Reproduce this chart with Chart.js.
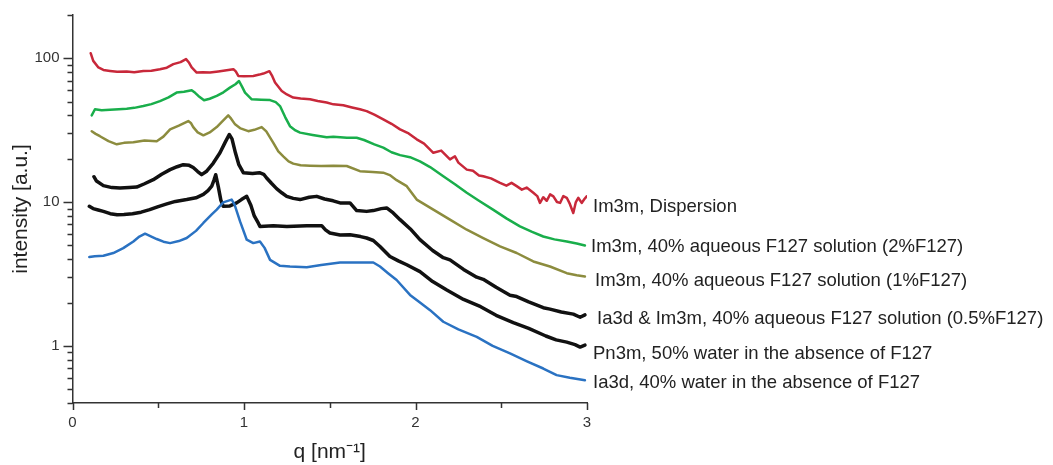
<!DOCTYPE html>
<html><head><meta charset="utf-8">
<script src="https://cdn.jsdelivr.net/npm/chart.js@4.4.1/dist/chart.umd.min.js"></script>
<style>html,body{margin:0;padding:0;background:#fff;}#wrap{width:1053px;height:465px;position:relative;}</style>
</head><body><div id="wrap"><canvas id="c"></canvas></div>
<script>
// ---- data (q in nm^-1, intensity in a.u.) ----
const seriesNames = [
  "Im3m, Dispersion",
  "Im3m, 40% aqueous F127 solution (2%F127)",
  "Im3m, 40% aqueous F127 solution (1%F127)",
  "Ia3d & Im3m, 40% aqueous F127 solution (0.5%F127)",
  "Pn3m, 50% water in the absence of F127",
  "Ia3d, 40% water in the absence of F127"
];
const qRed = [0.106,0.121,0.151,0.18,0.219,0.26,0.316,0.36,0.413,0.46,0.51,0.55,0.588,0.63,0.662,0.68,0.695,0.724,0.76,0.802,0.85,0.899,0.938,0.952,0.967,1.0,1.054,1.09,1.113,1.148,1.165,1.181,1.22,1.25,1.287,1.33,1.385,1.43,1.482,1.521,1.579,1.63,1.676,1.715,1.76,1.812,1.86,1.91,1.96,2.007,2.05,2.104,2.15,2.201,2.23,2.25,2.299,2.335,2.37,2.395,2.44,2.493,2.53,2.56,2.59,2.62,2.648,2.687,2.71,2.726,2.745,2.765,2.785,2.804,2.825,2.843,2.862,2.882,2.9,2.92,2.935,2.949,2.969,2.985,2.998];
const iRed = [108.5,95.9,86.3,83,81.7,80.5,80.9,80,81.7,82,84,86,91,94,98.6,93,86.3,79.6,80,79.6,81,82.6,84,81,75.4,75,75.4,77,78.3,81.3,75,67.8,59.2,56,53.3,52.5,51.8,50.5,49.2,47.8,47.1,45.5,44.2,42.9,40.5,37.6,35,32,30,27.3,25.5,22.0,22.8,19.8,20.8,18.8,16.8,16.5,15.3,15.1,14.6,13.6,13.0,13.6,12.9,12.2,12.6,11.6,11.0,9.86,10.8,10.2,11.3,10.95,10.0,9.86,11.0,10.7,9.7,8.39,10.0,10.7,9.86,10.5,10.95];

const qGreen = [0.112,0.131,0.17,0.219,0.27,0.316,0.36,0.413,0.46,0.51,0.56,0.607,0.65,0.695,0.715,0.734,0.767,0.8,0.841,0.88,0.918,0.95,0.971,0.99,1.006,1.045,1.1,1.152,1.185,1.21,1.24,1.268,1.3,1.327,1.4,1.482,1.521,1.6,1.657,1.7,1.76,1.812,1.86,1.91,1.968,2.026,2.085,2.162,2.23,2.299,2.37,2.452,2.53,2.609,2.68,2.745,2.81,2.882,2.94,2.988];
const iGreen = [40.1,44.2,43.5,43.8,44.2,44.6,45.2,46.5,48,50.4,53.5,57.7,58.5,59.9,57.5,54.7,51.0,52.3,54.7,58,62.5,66,69.5,63,57.7,51.8,51.5,51.2,49.5,46.5,39,33.7,31.5,30.4,29.3,28.2,28.5,28.0,28.0,27.0,25.2,23.9,22.2,21.2,20.5,19.2,17.5,15.1,13.3,11.6,10.2,8.85,7.7,6.77,6.2,5.76,5.5,5.32,5.15,4.99];

const qOlive = [0.112,0.135,0.16,0.21,0.258,0.3,0.355,0.42,0.491,0.53,0.569,0.62,0.675,0.69,0.704,0.73,0.763,0.8,0.841,0.875,0.908,0.925,0.948,0.98,1.025,1.06,1.103,1.13,1.171,1.2,1.229,1.26,1.287,1.33,1.385,1.45,1.521,1.599,1.676,1.75,1.812,1.85,1.89,1.949,2.007,2.104,2.201,2.299,2.395,2.493,2.59,2.687,2.784,2.882,2.94,2.988];
const iOlive = [31.1,29.8,28.7,26.5,25.2,25.8,26.1,26.8,26.5,28.5,32.0,34,36.6,35.5,33.2,30.5,29.1,30.5,33.2,36.5,40.1,38,34.7,32.5,31.1,31.8,33.2,31,25.8,22.5,20.8,19.2,18.5,18.0,17.9,17.8,17.9,17.8,16.4,16.2,16.0,15.4,14.2,12.9,10.4,8.85,7.54,6.42,5.62,4.91,4.42,3.86,3.56,3.2,3.1,3.03];

const qBlack1 = [0.125,0.14,0.18,0.23,0.277,0.33,0.374,0.42,0.471,0.52,0.569,0.61,0.646,0.68,0.704,0.73,0.753,0.78,0.82,0.86,0.89,0.914,0.93,0.95,0.97,0.996,1.05,1.09,1.115,1.132,1.16,1.19,1.22,1.249,1.287,1.327,1.38,1.424,1.47,1.52,1.56,1.618,1.657,1.715,1.754,1.8,1.832,1.87,1.91,1.97,2.026,2.1,2.162,2.201,2.28,2.357,2.395,2.47,2.551,2.59,2.66,2.745,2.784,2.85,2.92,2.96,2.988];
const iBlack1 = [15.0,14.0,13.0,12.6,12.5,12.6,12.7,13.4,14.3,15.6,16.8,17.6,18.2,18.0,17.4,16.3,15.5,16.3,18.6,22.0,26.0,29.5,27.5,22,18.2,16.0,15.8,16.0,15.6,14.7,13.5,12.4,11.6,10.95,10.6,10.4,10.8,10.95,10.5,10.2,9.86,9.86,8.72,8.61,8.72,9.0,9.1,8.4,7.54,6.5,5.47,4.6,4.1,3.96,3.4,3.0,2.9,2.55,2.25,2.2,2.02,1.84,1.8,1.72,1.66,1.58,1.64];

const qBlack2 = [0.098,0.12,0.15,0.18,0.22,0.26,0.3,0.35,0.4,0.45,0.5,0.55,0.6,0.666,0.72,0.763,0.79,0.812,0.825,0.835,0.85,0.865,0.879,0.918,0.957,0.985,1.016,1.04,1.06,1.083,1.093,1.171,1.25,1.366,1.453,1.475,1.501,1.56,1.618,1.68,1.715,1.754,1.793,1.851,1.9,1.949,2.026,2.1,2.18,2.28,2.38,2.47,2.57,2.66,2.76,2.82,2.882,2.93,2.96,2.988];
const iBlack2 = [9.33,9.0,8.8,8.61,8.3,8.17,8.2,8.3,8.5,8.85,9.3,9.7,10.1,10.4,10.7,11.3,12.0,12.9,14.2,15.5,12.8,10.3,9.33,9.4,9.86,10.4,10.95,9.5,8.0,7.15,6.77,6.85,6.75,6.85,6.85,6.4,6.09,5.9,5.93,5.75,5.62,5.4,4.91,4.18,3.9,3.66,3.28,2.8,2.45,2.1,1.87,1.63,1.45,1.32,1.17,1.1,1.06,1.02,0.98,1.01];

const qBlue = [0.098,0.13,0.18,0.238,0.296,0.355,0.39,0.423,0.46,0.491,0.53,0.569,0.62,0.666,0.72,0.763,0.812,0.841,0.879,0.928,0.945,0.977,1.016,1.054,1.093,1.12,1.152,1.21,1.268,1.366,1.45,1.56,1.754,1.793,1.84,1.89,1.968,2.026,2.085,2.162,2.25,2.357,2.45,2.551,2.65,2.745,2.823,2.9,2.988];
const iBlue = [4.14,4.2,4.23,4.42,4.78,5.32,5.75,6.02,5.75,5.53,5.3,5.18,5.35,5.62,6.3,7.15,8.2,8.85,9.95,10.4,9.6,7.33,5.47,5.18,5.32,4.8,3.96,3.6,3.56,3.52,3.65,3.8,3.8,3.56,3.2,2.87,2.26,2.0,1.77,1.47,1.3,1.155,1.0,0.885,0.78,0.695,0.625,0.6,0.576];

const xTickValues = [0, 1, 2, 3];
const yTickValues = [1, 10, 100];

// ---- styles ----
const colors = ['#c8283a', '#19ae4b', '#8c8c3e', '#111111', '#111111', '#2a72c2'];
const widths = [2.5, 2.5, 2.5, 3.5, 3.5, 2.5];
const labelDx = [6, 4, 8, 10, 6, 6];
const labelDy = [11, 1, 4, 4, 9, 3];

const qs = [qRed, qGreen, qOlive, qBlack1, qBlack2, qBlue];
const is = [iRed, iGreen, iOlive, iBlack1, iBlack2, iBlue];

const datasets = seriesNames.map((name, k) => ({
  label: name,
  data: qs[k].map((q, i) => ({x: q, y: is[k][i]})),
  borderColor: colors[k],
  backgroundColor: colors[k],
  borderWidth: widths[k],
  pointRadius: 0,
  tension: 0,
  fill: false,
  borderJoinStyle: 'round',
  borderCapStyle: 'round',
  order: k === 5 ? -1 : k
}));

const FONT = '"Liberation Sans", Arial, sans-serif';

const tickMarks = {
  id: 'tickMarks',
  afterDraw(chart) {
    const ctx = chart.ctx, xs = chart.scales.x, ys = chart.scales.y;
    const ca = chart.chartArea;
    ctx.save();
    ctx.strokeStyle = '#333';
    ctx.lineWidth = 1.5;
    ctx.beginPath();
    for (let d = -1; d <= 2; d++) {
      for (let m = 1; m <= 9; m++) {
        const v = m * Math.pow(10, d);
        if (v < ys.min - 1e-9 || v > ys.max + 1e-9) continue;
        const y = Math.round(ys.getPixelForValue(v)) + 0.5;
        const len = (m === 1) ? 9 : 5;
        ctx.moveTo(ca.left, y); ctx.lineTo(ca.left - len, y);
      }
    }
    for (let v = 0; v <= 3.0001; v += 0.5) {
      const x = Math.round(xs.getPixelForValue(v)) + 0.5;
      const len = (Math.abs(v - Math.round(v)) < 1e-6) ? 7 : 5;
      ctx.moveTo(x, ca.bottom); ctx.lineTo(x, ca.bottom + len);
    }
    ctx.stroke();
    ctx.font = '18.5px ' + FONT;
    ctx.fillStyle = '#222';
    ctx.textBaseline = 'middle';
    ctx.textAlign = 'left';
    chart.data.datasets.forEach((ds, k) => {
      const last = ds.data[ds.data.length - 1];
      const y = ys.getPixelForValue(last.y) + labelDy[k];
      ctx.fillText(seriesNames[k], ca.right + labelDx[k], y);
    });
    ctx.restore();
  }
};

new Chart(document.getElementById('c'), {
  type: 'line',
  data: { datasets },
  options: {
    responsive: true,
    maintainAspectRatio: false,
    animation: false,
    devicePixelRatio: 1,
    layout: { padding: { top: 15, right: 466, bottom: 0, left: 0 } },
    plugins: { legend: { display: false }, tooltip: { enabled: false } },
    scales: {
      x: {
        type: 'linear', min: 0, max: 3, position: 'bottom',
        grid: { display: false, drawTicks: false },
        border: { display: true, color: '#333', width: 1.5 },
        afterBuildTicks: (s) => { s.ticks = xTickValues.map(v => ({value: v})); },
        afterFit: (s) => { s.height = 62; s.paddingLeft = 0; s.paddingRight = 0; },
        ticks: { padding: 11, color: '#333', font: { family: FONT, size: 15 }, maxRotation: 0, callback: (v) => String(v) },
        title: { display: true, text: 'q [nm\u207B\u00B9]', color: '#222', font: { family: FONT, size: 21 }, padding: { top: 0, bottom: 0 } }
      },
      y: {
        type: 'logarithmic', min: 0.4, max: 200, position: 'left',
        grid: { display: false, drawTicks: false },
        border: { display: true, color: '#333', width: 1.5 },
        afterBuildTicks: (s) => { s.ticks = yTickValues.map(v => ({value: v})); },
        afterFit: (s) => { s.width = 72.5; s.paddingTop = 0; s.paddingBottom = 0; },
        ticks: { padding: 13, color: '#333', font: { family: FONT, size: 15 }, callback: (v) => String(v) },
        title: { display: true, text: 'intensity [a.u.]', color: '#222', font: { family: FONT, size: 21 }, padding: { top: 9, bottom: 0 } }
      }
    }
  },
  plugins: [tickMarks]
});
</script>
</body></html>
